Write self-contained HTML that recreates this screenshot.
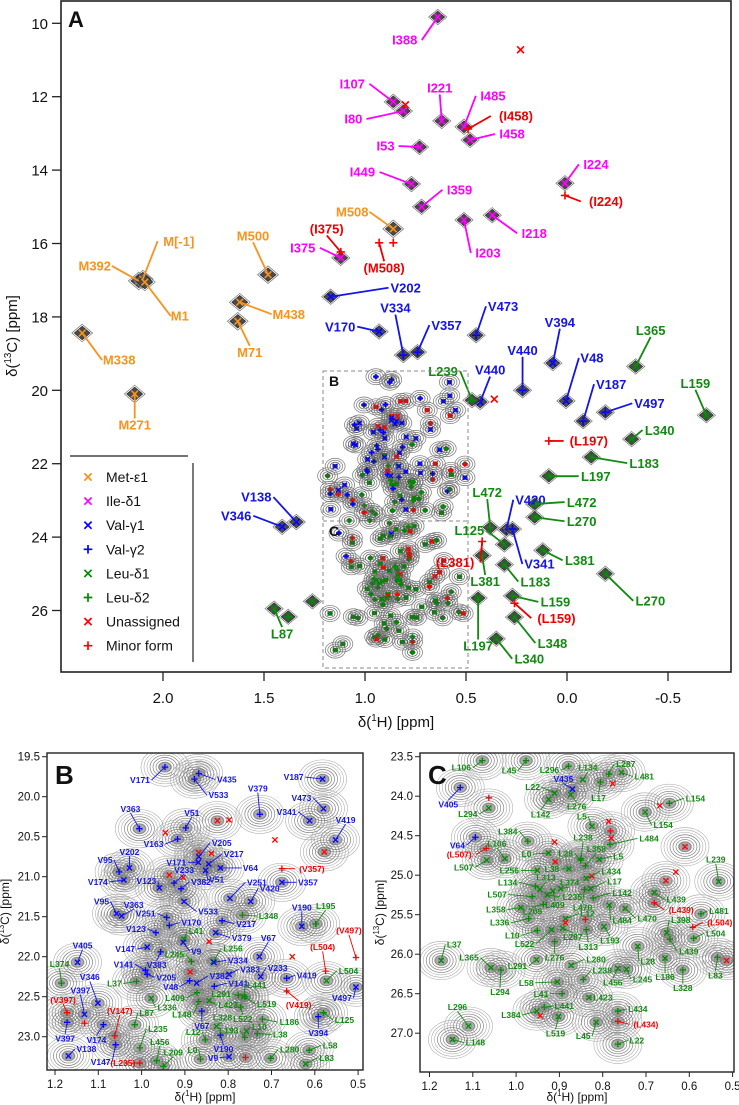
<!DOCTYPE html>
<html>
<head>
<meta charset="utf-8">
<style>
html,body{margin:0;padding:0;background:#fff;}
svg{display:block;font-family:"Liberation Sans",Arial,sans-serif;}
</style>
</head>
<body>
<svg id="chart" width="739" height="1105" viewBox="0 0 739 1105" xmlns="http://www.w3.org/2000/svg">
<defs>
<clipPath id="clipA"><rect x="61" y="1" width="670" height="671"/></clipPath>
<clipPath id="clipB"><rect x="47" y="753" width="316" height="317"/></clipPath>
<clipPath id="clipC"><rect x="420" y="753" width="314" height="319"/></clipPath>
</defs>
</svg>
<script>
// ---------- Panel A data (ppm) ----------
const aLabel=["M392","M[-1]","M1","M500","M438","M71","M338","M271","M508","I388","I107","I80","I221","I485","(I458)","I458","I53","I449","I359","I203","I218","I224","(I224)","I375","(I375)","(M508)","","","","V202","V170","V334","V357","V473","V394","V440","V440","","V48","V187","V497","V420","V341","V138","V346","L365","L159","L340","L183","(L197)","L197","L472","L270","L472","L125","L381","(L381)","L381","L183","L159","(L159)","L197","L348","L340","L270","L239","L87","",""];
const aType=["met","met","met","met","met","met","met","met","met","ile","ile","ile","ile","ile","m","ile","ile","ile","ile","ile","ile","ile","m","ile","m","m","m","u","u","v1","v1","v2","v2","v2","v1","v2","v1","u","v1","v2","v2","v2","v2","v1","v1","l1","l1","l1","l1","m","l1","l1","l1","l2","l1","l1","m","l2","l1","l2","m","l1","l1","l1","l1","l2","l1","l2","l1"];
const aH=[2.12,2.10,2.09,1.48,1.62,1.63,2.40,2.14,0.86,0.64,0.86,0.81,0.62,0.51,0.49,0.48,0.73,0.77,0.72,0.51,0.37,0.01,0.01,1.12,1.12,0.93,0.86,0.23,0.80,1.17,0.93,0.81,0.74,0.45,0.07,0.22,0.43,0.36,0.005,-0.08,-0.19,0.30,0.27,1.34,1.41,-0.34,-0.69,-0.32,-0.12,0.09,0.09,0.16,0.16,0.38,0.31,0.12,0.42,0.42,0.31,0.27,0.26,0.44,0.26,0.35,-0.19,0.47,1.45,1.38,1.26];
const aC=[17.02,16.97,17.05,16.85,17.6,18.12,18.44,20.1,15.6,9.83,12.14,12.39,12.66,12.82,12.88,13.18,13.37,14.38,15.0,15.36,15.23,14.36,14.69,16.39,16.23,15.98,15.98,10.72,12.22,17.45,18.4,19.04,18.96,18.5,19.26,20.0,20.32,20.24,20.29,20.84,20.6,23.8,23.78,23.59,23.72,19.35,20.68,21.33,21.82,21.38,22.34,23.1,23.46,23.74,24.2,24.36,24.12,24.5,24.75,25.6,25.8,25.66,26.18,26.77,25.0,20.27,25.95,26.17,25.75];
// label layout offsets (px) - presentation only
const aOff=[[-44,-15],[36,-38],[35,34],[-15,-39],[49,12],[12,31],[37,27],[0,31],[-41,-17],[-33,23],[-41,-18],[-50,8],[-2,-33],[29,-31],[48,-13],[42,-6],[-34,-1],[-49,-12],[38,-17],[24,33],[42,18],[31,-19],[41,6],[-38,-10],[-14,-23],[5,25],null,null,null,[75,-9],[-39,-5],[-8,-47],[29,-27],[27,-29],[7,-41],[0,-40],[10,-32],null,[26,-43],[28,-37],[44,-9],[24,-30],[27,35],[-40,-25],[-46,-11],[15,-36],[-11,-32],[28,-9],[53,6],[40,0],[47,0],[47,-2],[47,4],[-3,-35],[-35,-14],[37,10],[-27,21],[3,26],[31,17],[43,6],[42,15],[0,48],[38,26],[33,20],[45,27],[-29,-29],[8,25],null,null];

// ---------- Panel B data ----------
const bLabel=["V171","V435","V533","V187","V379","V473","V341","V419","","","","","V363","","V51","V163","","","V205","V171","V217","V64","V51","V202","V95","V174","","","V233","V382","V123","V533","V251","V420","V357","(V357)","V95","V363","V251","V170","L348","V217","V190","L195","V123","L41","V379","","V9","V147","V383","L245","L256","V334","V67","","V405","L374","","V141","V205","V383","V233","L37","V382","V48","V419","(L504)","L504","(V497)","V497","V141","L441","L291","L519","L409","L148","L423","L336","(V419)","V346","V397","(V397)","","L522","L328","V67","L87","(V147)","V174","V397","L186","L10","L193","L38","L12","V394","L125","V190","L235","L456","L209","L0","V9","","L280","L58","L83","V138","V147","(L235)"];
const bType=["v2","v2","v2","v1","v2","v1","v1","v1","u","u","u","u","v2","u","v2","v2","u","u","v1","v1","v1","v1","v1","v1","v2","v1","u","u","v2","v2","v1","v1","v1","v1","v1","m","v1","v1","v2","v2","l2","v2","v1","l2","v2","l1","v1","u","v1","v1","v2","l2","l1","v1","v1","u","v1","l2","u","v2","v2","v1","v1","l2","v1","v2","v2","m","l1","m","v1","v2","l1","l2","l2","l2","l2","l1","l1","m","v1","v1","m","m","l2","l1","v2","l2","m","v2","v2","l2","l1","l2","l2","l2","v2","l2","v2","l2","l2","l2","l2","v1","m","l2","l2","l1","v1","v2","m"];
const bH=[0.946,0.868,0.878,0.582,0.727,0.58,0.612,0.552,0.578,0.692,0.825,0.798,1.005,0.945,0.898,0.917,0.868,0.839,0.868,0.869,0.845,0.818,0.852,1.028,1.052,1.041,0.936,0.904,0.925,0.909,0.959,0.902,0.796,0.748,0.676,0.676,1.058,1.046,0.942,0.936,0.767,0.814,0.630,0.598,0.967,0.902,0.829,0.844,0.904,0.987,0.956,0.885,0.835,0.833,0.728,0.652,1.148,1.185,0.888,0.991,0.987,0.798,0.725,1.012,0.873,0.889,0.665,0.575,0.573,0.505,0.505,0.832,0.764,0.777,0.762,0.872,0.868,0.844,0.978,0.665,1.101,1.132,1.172,1.132,0.771,0.827,0.861,1.016,1.062,1.088,1.172,0.721,0.758,0.762,0.733,0.853,0.592,0.580,0.818,1.004,0.965,0.950,0.864,0.798,0.760,0.702,0.613,0.621,1.169,1.060,1.004];
const bC=[19.63,19.71,19.78,19.78,20.22,20.15,20.30,20.54,20.69,20.54,20.30,20.29,20.40,20.45,20.39,20.53,20.70,20.71,20.75,20.82,20.84,20.89,20.92,20.89,20.94,21.04,20.98,21.01,21.08,21.15,21.14,21.31,21.27,21.31,21.07,20.90,21.46,21.49,21.51,21.61,21.48,21.55,21.62,21.59,21.70,21.78,21.70,21.81,21.82,21.88,21.94,22.06,22.06,22.07,22.00,22.00,22.07,22.33,22.19,22.17,22.22,22.22,22.25,22.31,22.33,22.30,22.27,22.18,22.30,22.01,22.38,22.37,22.50,22.48,22.50,22.45,22.56,22.55,22.52,22.43,22.58,22.72,22.70,22.83,22.63,22.87,22.68,22.85,22.99,22.85,22.82,22.78,22.93,23.01,22.96,23.04,22.75,22.70,22.98,23.14,23.30,23.37,23.28,23.25,23.26,23.27,23.17,23.34,23.24,23.10,23.33];
const bOff=[[-25,13],[28,6],[24,16],[-29,-2],[-2,-26],[-22,-11],[-23,-9],[10,-20],null,null,null,null,[-9,-20],null,[6,-15],[-24,5],null,null,[23,-14],[-22,0],[25,-10],[30,0],[11,9],[0,-16],[-14,-12],[-26,2],null,null,[10,-13],[20,-7],[-13,-7],[24,10],[27,-16],[19,-13],[26,0],[30,0],[-15,-12],[12,-11],[-21,-4],[22,-3],[26,1],[24,3],[0,-19],[10,-18],[-20,-4],[12,-8],[26,5],null,[13,9],[-22,2],[-4,13],[-17,-7],[20,-13],[24,-2],[9,-19],null,[5,-17],[-2,-19],null,[-22,-6],[19,3],[21,-5],[17,-9],[-22,2],[23,-7],[-19,6],[20,-3],[-3,-24],[22,-10],[-7,-27],[-14,11],[24,-3],[13,-12],[-17,-1],[22,7],[-22,5],[-17,13],[19,4],[16,9],[12,14],[-8,-26],[-4,-24],[-4,-13],null,[2,12],[6,-9],[0,15],[12,-12],[5,-25],[-7,15],[-2,16],[27,3],[13,-4],[-16,-7],[23,1],[-12,-8],[0,16],[21,7],[3,14],[18,-19],[3,-19],[10,-14],[-8,-9],[-16,1],null,[19,-9],[21,-5],[21,-6],[18,-7],[-15,17],[-17,0]];

// ---------- Panel C data ----------
const cLabel=["L106","L45","L296","L134","L287","L481","L17","","V435","L22","L276","L142","V405","","L294","","L154","L154","L5","","","","L484","L384","V64","","L238","L358","L28","L5","(L507)","L507","L106","L0","","L38","L256","","L434","L313","L134","L374","L17","L470","L409","L235","L142","L507","L209","L358","L484","L470","","","","L439","(L439)","L239","L481","(L504)","L504","L398","L439","L336","L12","","","L10","L522","L287","L313","L193","L276","L37","L365","L294","L291","L280","L28","L186","L328","L83","","L238","L456","L245","L58","L41","L423","L441","L384","","L519","L434","(L434)","L45","L22","L296","L148"];
const cType=["l2","l2","l2","l1","l2","l1","l2","u","v1","l1","l1","l1","v2","m","l1","u","l2","l1","l1","u","m","u","l2","l2","v2","u","l2","l2","l2","l1","m","l1","l1","l1","u","l1","l1","u","l1","l1","l2","l1","l1","l2","l1","l1","l2","l2","l2","l1","l1","l1","u","u","u","l1","m","l1","l2","m","l2","l1","l2","l2","l1","u","m","l2","l1","l1","l2","l1","l2","l1","l1","l2","l1","l1","l1","l1","l2","l2","u","l2","l1","l1","l1","l2","l1","l2","l1","u","l1","l2","m","l1","l2","l1","l1"];
const cH=[1.078,0.977,0.879,0.846,0.786,0.757,0.805,0.777,0.870,0.911,0.874,0.925,1.129,1.063,1.063,0.668,0.646,0.702,0.825,0.786,0.782,0.780,0.783,0.973,1.094,0.911,0.850,0.840,0.851,0.808,1.069,1.068,1.026,0.925,0.910,0.878,0.951,0.825,0.838,0.945,0.955,0.897,0.828,0.842,0.915,0.928,0.822,0.963,0.937,0.989,0.785,0.748,0.654,0.631,0.610,0.681,0.681,0.532,0.573,0.592,0.590,0.652,0.645,0.971,0.886,0.886,0.840,0.951,0.918,0.892,0.838,0.797,0.911,1.173,1.058,1.035,0.953,0.873,0.719,0.656,0.615,0.535,0.514,0.845,0.765,0.745,0.905,0.894,0.832,0.935,0.952,0.944,0.902,0.765,0.765,0.815,0.765,1.110,1.147];
const cC=[23.55,23.55,23.62,23.79,23.72,23.70,23.82,23.84,23.91,23.96,23.98,24.04,23.89,24.02,24.15,24.12,24.09,24.20,24.38,24.32,24.44,24.53,24.61,24.57,24.52,24.58,24.79,24.88,24.81,24.80,24.66,24.81,24.79,24.72,24.83,24.92,24.94,25.01,25.04,25.18,25.14,25.17,25.17,25.18,25.20,25.25,25.29,25.27,25.37,25.41,25.38,25.42,25.07,24.96,24.64,25.22,25.35,25.08,25.49,25.66,25.80,25.73,25.81,25.55,25.55,25.60,25.56,25.70,25.69,25.67,25.69,25.65,25.84,26.08,26.17,26.20,26.07,26.14,25.90,26.05,26.20,26.04,26.08,26.32,26.18,26.19,26.35,26.50,26.55,26.67,26.72,26.78,26.79,26.72,26.85,26.86,27.14,26.91,27.08];
const cOff=[[-21,7],[-17,10],[-19,4],[5,-12],[17,-10],[23,4],[-2,16],null,[-9,-10],[-22,-6],[6,12],[-8,15],[-12,17],null,[-21,6],null,[26,-5],[18,13],[-10,-10],null,null,null,[39,-6],[-20,-10],[-18,8],null,[2,-21],[11,-17],[-15,-7],[19,-3],[-27,6],[-23,7],[-8,-15],[-22,1],null,[-17,0],[-28,0],null,[25,-7],[6,-12],[-28,-4],[9,-6],[24,-7],[-2,18],[2,14],[25,2],[29,-5],[-35,-2],[-11,7],[-25,2],[13,15],[22,10],null,null,null,[22,7],[27,7],[-3,-22],[18,-3],[27,-5],[22,-5],[14,-13],[19,12],[-29,4],[22,-5],null,null,[-25,5],[-27,14],[10,9],[2,17],[6,14],[0,16],[13,-16],[-22,-10],[-1,22],[-19,6],[25,-6],[10,15],[0,19],[0,18],[-2,18],null,[19,-9],[-5,14],[16,10],[-31,1],[-21,0],[14,0],[20,-1],[-26,4],null,[-3,17],[20,-2],[28,3],[-13,14],[19,-4],[-11,-19],[23,3]];

// ---------- axes ----------
const aXTicks=[2.0,1.5,1.0,0.5,0.0,-0.5];
const aXTickLabels=["2.0","1.5","1.0","0.5","0.0","-0.5"];
const aYTicks=[10,12,14,16,18,20,22,24,26];
const bXTicks=[1.2,1.1,1.0,0.9,0.8,0.7,0.6,0.5];
const bXTickLabels=["1.2","1.1","1.0","0.9","0.8","0.7","0.6","0.5"];
const bYTicks=[19.5,20.0,20.5,21.0,21.5,22.0,22.5,23.0];
const cYTicks=[23.5,24.0,24.5,25.0,25.5,26.0,26.5,27.0];
const legendLabels=["Met-\u03b51","Ile-\u03b41","Val-\u03b31","Val-\u03b32","Leu-\u03b41","Leu-\u03b42","Unassigned","Minor form"];
const legendTypes=["met","ile","v1","v2","l1","l2","u","m"];

const xA=h=>567-202*h, yA=c=>23.3+(c-10)*36.7;
const xB=h=>55+(1.2-h)*433, yB=c=>756.7+(c-19.5)*80;
const xC=h=>429.5+(1.2-h)*433, yC=c=>756.7+(c-23.5)*79;

const COL={met:'#f7931e',ile:'#ff00ff',v1:'#0000ff',v2:'#0000ff',l1:'#008a00',l2:'#008a00',u:'#ff0000',m:'#ff0000'};
const LCOL={met:'#f7931e',ile:'#ff00ff',v1:'#1414e6',v2:'#1414e6',l1:'#128a12',l2:'#128a12',u:'#ee0000',m:'#ee0000'};
const SHAPE={met:'x',ile:'x',v1:'x',v2:'+',l1:'x',l2:'+',u:'x',m:'+'};

const NS='http://www.w3.org/2000/svg';
const svg=document.getElementById('chart');
function mk(tag,attrs,parent){const e=document.createElementNS(NS,tag);for(const k in attrs)e.setAttribute(k,attrs[k]);parent.appendChild(e);return e;}

function marker(g,x,y,type,s,w){
  const c=COL[type];
  const m=mk('path',{d:SHAPE[type]==='x'?`M${x-s},${y-s}L${x+s},${y+s}M${x-s},${y+s}L${x+s},${y-s}`:`M${x-s*1.2},${y}L${x+s*1.2},${y}M${x},${y-s*1.2}L${x},${y+s*1.2}`,stroke:c,'stroke-width':w,fill:'none'},g);
  
  
}
function label(g,x,y,off,text,type,fs,lw){
  if(!off||!text)return;
  const cx=x+off[0], cy=y+off[1];
  const w=text.length*fs*0.62;
  let ex,ey;
  if(Math.abs(off[0])>w/2+2){ex=cx-Math.sign(off[0])*(w/2+1);ey=cy;}
  else{ex=cx;ey=cy-Math.sign(off[1])*(fs*0.5);}
  const ln=mk('line',{x1:x,y1:y,x2:ex,y2:ey,stroke:LCOL[type],'stroke-width':lw},g);
  
  
  const t=mk('text',{x:cx,y:cy+fs*0.36,'font-size':fs,'font-weight':'bold','text-anchor':'middle',fill:LCOL[type]},g);
  t.textContent=text;
  
  
}
function supTitle(g,x,y,pre,sup,post,fs,rot){
  const t=mk('text',{x:x,y:y,'font-size':fs,'text-anchor':'middle',fill:'#111'},g);
  if(rot)t.setAttribute('transform',`rotate(-90 ${x} ${y})`);
  t.appendChild(document.createTextNode(pre));
  const s=mk('tspan',{'font-size':fs*0.65,dy:-fs*0.4},t);s.textContent=sup;
  const p=mk('tspan',{dy:fs*0.4},t);p.textContent=post;
  return t;
}

// ================= Panel A =================
const gA=mk('g',{},svg);


const gAc=mk('g',{'clip-path':'url(#clipA)'},gA);


function smallPeak(g,x,y){
  for(let k=4;k>=1;k--){
    const e=mk('ellipse',{cx:x,cy:y,rx:2.5*k,ry:2.0*k,fill:k===1?'#444':'none',stroke:k>2?'#777':'#555','stroke-width':0.7},g);
    
    
  }
}
for(let i=0;i<bH.length;i++){smallPeak(gAc,xA(bH[i]),yA(bC[i]));}
for(let i=0;i<cH.length;i++){smallPeak(gAc,xA(cH[i]),yA(cC[i]));}
for(let i=0;i<bH.length;i++){marker(gAc,xA(bH[i]),yA(bC[i]),bType[i],2.4,1.3);}
for(let i=0;i<cH.length;i++){marker(gAc,xA(cH[i]),yA(cC[i]),cType[i],2.4,1.3);}
for(let i=0;i<aH.length;i++){
  const x=xA(aH[i]),y=yA(aC[i]),t=aType[i];
  if(t!=='u'&&t!=='m'){
    const s=t==='met'?8:7;
    const o=mk('polygon',{points:`${x-s*1.3},${y} ${x},${y-s*1.1} ${x+s*1.3},${y} ${x},${y+s*1.1}`,fill:'none',stroke:'#777','stroke-width':0.7},gAc);
    
    
    const p=mk('polygon',{points:`${x-s},${y} ${x},${y-s*0.85} ${x+s},${y} ${x},${y+s*0.85}`,fill:'#4a4a4a',stroke:'#222','stroke-width':0.6},gAc);
    
    
  }
  marker(gAc,x,y,t,3.4,1.6);
}
for(let i=0;i<aH.length;i++){label(gA,xA(aH[i]),yA(aC[i]),aOff[i],aLabel[i],aType[i],13,1.8);}
const box=mk('rect',{x:323,y:371,width:145,height:297,fill:'none',stroke:'#888','stroke-width':1,'stroke-dasharray':'4,3'},gA);


const div=mk('line',{x1:323,y1:521,x2:468,y2:521,stroke:'#888','stroke-width':1,'stroke-dasharray':'4,3'},gA);


[['B',334,386],['C',334,536]].forEach(([s,x,y])=>{const t=mk('text',{x:x,y:y,'font-size':14,'font-weight':'bold','text-anchor':'middle',fill:'#111'},gA);t.textContent=s;});
const fA=mk('rect',{x:61,y:1,width:670,height:671,fill:'none',stroke:'#222','stroke-width':1.6},gA);


const pA=mk('text',{x:68,y:27,'font-size':22,'font-weight':'bold',fill:'#111'},gA);pA.textContent='A';


aXTicks.forEach((v,i)=>{
  const x=xA(v);
  const tk=mk('line',{x1:x,y1:672,x2:x,y2:681,stroke:'#222','stroke-width':1.3},gA);
  
  
  const t=mk('text',{x:x,y:703,'font-size':15,'text-anchor':'middle',fill:'#111'},gA);t.textContent=aXTickLabels[i];
  
  
});
aYTicks.forEach(v=>{
  const y=yA(v);
  const tk=mk('line',{x1:52,y1:y,x2:61,y2:y,stroke:'#222','stroke-width':1.3},gA);
  
  
  const t=mk('text',{x:48,y:y+5.5,'font-size':15,'text-anchor':'end',fill:'#111'},gA);t.textContent=String(v);
  
  
});
const xtA=supTitle(gA,396,727,'\u03b4(','1','H) [ppm]',15,false);


const ytA=supTitle(gA,17,336,'\u03b4(','13','C) [ppm]',15,true);


const gL=mk('g',{},gA);


const l1=mk('line',{x1:70,y1:456,x2:188,y2:456,stroke:'#222','stroke-width':1.2},gL);


const l2=mk('line',{x1:193,y1:463,x2:193,y2:662,stroke:'#222','stroke-width':1.2},gL);


legendLabels.forEach((s,i)=>{
  const y=477+i*24.1;
  marker(gL,88,y,legendTypes[i],3.6,1.7);
  const t=mk('text',{x:106,y:y+5,'font-size':14,fill:'#111'},gL);t.textContent=s;
  
  
});

// ================= Panels B & C =================
function bigPeak(g,x,y){
  for(let k=8;k>=6;k--){
    const e=mk('ellipse',{cx:x,cy:y,rx:3.0*k,ry:2.4*k,fill:'none',stroke:'#a8a8a8','stroke-width':0.55},g);
    
    
  }
  const f=mk('ellipse',{cx:x,cy:y,rx:7,ry:5.5,fill:'#7a7a7a','fill-opacity':0.6},g);
  
  
  for(let k=1;k<=5;k++){
    const e=mk('ellipse',{cx:x,cy:y,rx:3.0*k,ry:2.4*k,fill:'none',stroke:'#7c7c7c','stroke-width':0.65},g);
    
    
  }
}
function panel(name,H,C,T,L,O,fx,fy,frame,clip,xT,xTL,yT,letter,ylabX,ytitleX){
  const g=mk('g',{},svg);
  
  
  const gc=mk('g',{'clip-path':clip},g);
  
  
  for(let i=0;i<H.length;i++){if(T[i]!=='m'&&T[i]!=='u'||i%2===0)bigPeak(gc,fx(H[i]),fy(C[i]));}
  for(let i=0;i<H.length;i++){marker(gc,fx(H[i]),fy(C[i]),T[i],2.6,1.3);}
  for(let i=0;i<H.length;i++){label(gc,fx(H[i]),fy(C[i]),O[i],L[i],T[i],8.5,0.9);}
  const fr=mk('rect',{x:frame[0],y:frame[1],width:frame[2],height:frame[3],fill:'none',stroke:'#222','stroke-width':1.4},g);
  
  
  const pl=mk('text',{x:frame[0]+8,y:frame[1]+31,'font-size':26,'font-weight':'bold',fill:'#111'},g);pl.textContent=letter;
  
  
  const bottom=frame[1]+frame[3];
  xT.forEach((v,i)=>{
    const x=fx(v);
    const tk=mk('line',{x1:x,y1:bottom,x2:x,y2:bottom+5,stroke:'#222','stroke-width':1},g);
    
    
    const t=mk('text',{x:x,y:bottom+18,'font-size':11.5,'text-anchor':'middle',fill:'#111'},g);t.textContent=xTL[i];
    
    
  });
  yT.forEach(v=>{
    const y=fy(v);
    const tk=mk('line',{x1:frame[0]-5,y1:y,x2:frame[0],y2:y,stroke:'#222','stroke-width':1},g);
    
    
    const t=mk('text',{x:ylabX,y:y+4,'font-size':11.5,'text-anchor':'end',fill:'#111'},g);t.textContent=v.toFixed(1);
    
    
  });
  const xt=supTitle(g,frame[0]+frame[2]/2,1101,'\u03b4(','1','H) [ppm]',12,false);
  
  
  const yt=supTitle(g,ytitleX,frame[1]+frame[3]/2,'\u03b4(','13','C) [ppm]',12,true);
  
  
}
panel('panel-b',bH,bC,bType,bLabel,bOff,xB,yB,[47,753,316,317],'url(#clipB)',bXTicks,bXTickLabels,bYTicks,'B',40,9);
panel('panel-c',cH,cC,cType,cLabel,cOff,xC,yC,[420,753,314,319],'url(#clipC)',bXTicks,bXTickLabels,cYTicks,'C',413,384);
</script>
</body>
</html>
